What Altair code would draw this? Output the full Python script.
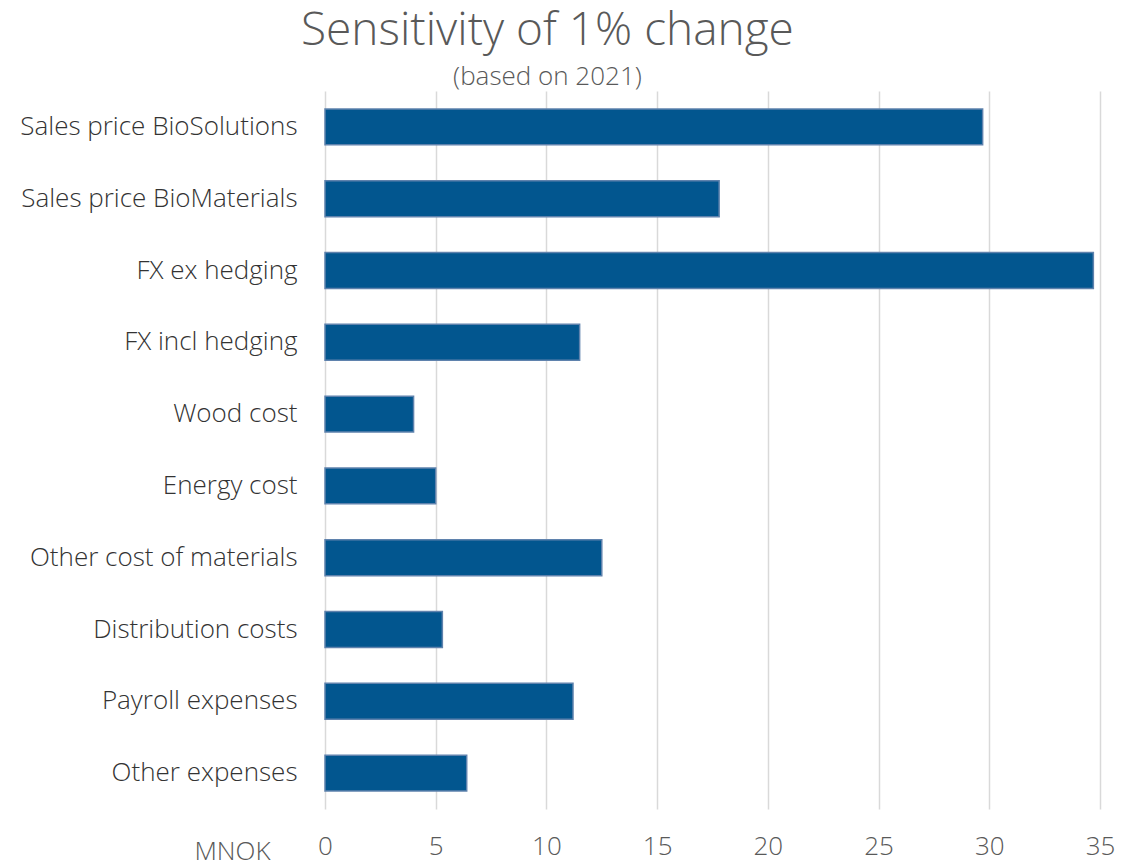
import altair as alt
import pandas as pd

categories = [
    "Sales price BioSolutions",
    "Sales price BioMaterials",
    "FX ex hedging",
    "FX incl hedging",
    "Wood cost",
    "Energy cost",
    "Other cost of materials",
    "Distribution costs",
    "Payroll expenses",
    "Other expenses",
]
values = [29.7, 17.8, 34.7, 11.5, 4.0, 5.0, 12.5, 5.3, 11.2, 6.4]
x_ticks = [0, 5, 10, 15, 20, 25, 30, 35]

df = pd.DataFrame({"category": categories, "value": values})

FONT = "Open Sans"

chart = (
    alt.Chart(df)
    .mark_bar(color="#02568f", stroke="#5f82ad", strokeWidth=1.5)
    .encode(
        x=alt.X(
            "value:Q",
            scale=alt.Scale(domain=[0, 35], nice=False),
            axis=alt.Axis(
                values=x_ticks,
                title="MNOK",
                titleX=-93,
                titleY=50,
                titleAlign="center",
                titleBaseline="alphabetic",
                titleFont=FONT,
                titleFontSize=26,
                titleFontWeight=300,
                titleColor="#595959",
                labelFont=FONT,
                labelFontSize=26,
                labelFontWeight=300,
                labelColor="#595959",
                labelPadding=24,
                labelFlush=False,
                domain=False,
                ticks=False,
                grid=True,
                gridColor="#d9d9d9",
                gridWidth=1.5,
            ),
        ),
        y=alt.Y(
            "category:N",
            sort=categories,
            scale=alt.Scale(paddingInner=0.5, paddingOuter=0.25),
            axis=alt.Axis(
                title=None,
                labelFont=FONT,
                labelFontSize=26,
                labelFontWeight=300,
                labelColor="#333333",
                labelPadding=28,
                labelLimit=400,
                domain=False,
                ticks=False,
                grid=False,
                minExtent=317,
                maxExtent=317,
            ),
        ),
    )
    .properties(
        width=775,
        height=718,
        padding={"left": 0, "top": 0, "right": 5, "bottom": 0},
        title=alt.TitleParams(
            text="Sensitivity of 1% change",
            subtitle="(based on 2021)",
            anchor="middle",
            frame="bounds",
            dx=-14,
            font=FONT,
            fontSize=46,
            fontWeight=300,
            color="#595959",
            subtitleFont=FONT,
            subtitleFontSize=26,
            subtitleFontWeight=300,
            subtitleColor="#595959",
            subtitlePadding=9,
            offset=0,
        ),
    )
    .configure_view(stroke=None)
)

chart.save("out.html", embed_options={"renderer": "svg", "actions": False})
